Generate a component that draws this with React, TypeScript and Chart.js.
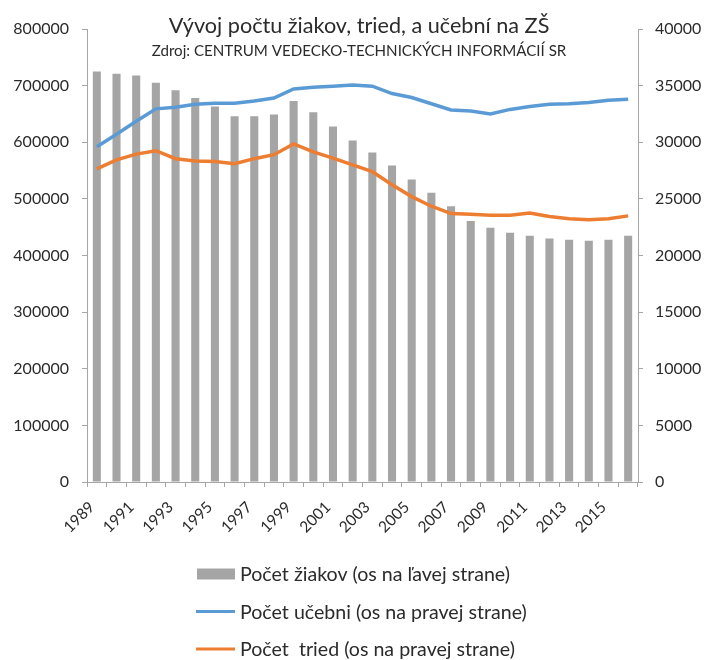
import React, { useEffect, useRef } from "react";
import { Chart, registerables } from "chart.js";

Chart.register(...registerables);

const years = [
  "1989", "1990", "1991", "1992", "1993", "1994", "1995", "1996", "1997", "1998",
  "1999", "2000", "2001", "2002", "2003", "2004", "2005", "2006", "2007", "2008",
  "2009", "2010", "2011", "2012", "2013", "2014", "2015", "2016",
];

const ziaci = [
  725000, 721000, 718000, 705000, 692000, 678000, 663000, 646000, 646000, 649000,
  673000, 653000, 628000, 603000, 582000, 559000, 534000, 511000, 487000, 461000,
  449000, 440000, 435000, 430000, 428000, 426000, 428000, 435000,
];

const ucebne = [
  29600, 30700, 31850, 32950, 33100, 33350, 33450, 33450, 33650, 33900,
  34700, 34850, 34950, 35050, 34950, 34300, 33950, 33400, 32850, 32750,
  32500, 32900, 33150, 33350, 33400, 33500, 33700, 33800,
];

const triedy = [
  27650, 28450, 28950, 29250, 28550, 28350, 28300, 28100, 28550, 28900,
  29850, 29150, 28600, 28000, 27400, 26250, 25200, 24350, 23700, 23650,
  23550, 23550, 23750, 23450, 23250, 23150, 23250, 23500,
];

const titleText = "Vývoj počtu žiakov, tried, a učební na ZŠ";
const subtitleText = "Zdroj: CENTRUM VEDECKO-TECHNICKÝCH INFORMÁCIÍ SR";
const legendLabels = [
  "Počet žiakov (os na ľavej strane)",
  "Počet učebni (os na pravej strane)",
  "Počet  tried (os na pravej strane)",
];

const FONT = "Lato, 'Open Sans', sans-serif";
const TEXT = "#2b2b2b";
const AXIS = "#a6a6a6";

function fitFont(ctx: CanvasRenderingContext2D, text: string, target: number) {
  ctx.font = `20px ${FONT}`;
  const w = ctx.measureText(text).width;
  return (20 * target) / w;
}

const decorPlugin = {
  id: "decor",
  afterDraw(chart: any) {
    const ctx: CanvasRenderingContext2D = chart.ctx;
    ctx.save();
    ctx.fillStyle = TEXT;
    ctx.textAlign = "center";
    ctx.textBaseline = "alphabetic";
    const cx = 359;
    let s = fitFont(ctx, titleText, 381);
    ctx.font = `${s}px ${FONT}`;
    ctx.fillText(titleText, cx, 33);
    s = fitFont(ctx, subtitleText, 415);
    ctx.font = `${s}px ${FONT}`;
    ctx.fillText(subtitleText, cx, 56);

    // legend
    const ds = chart.data.datasets;
    const rows = [574, 611.5, 649];
    const ls = fitFont(ctx, legendLabels[1], 287);
    ctx.font = `${ls}px ${FONT}`;
    ctx.textAlign = "left";
    ctx.textBaseline = "middle";
    ds.forEach((d: any, i: number) => {
      const y = rows[i];
      if (d.type === "bar") {
        ctx.fillStyle = d.backgroundColor;
        ctx.fillRect(197, y - 5.5, 38, 11);
      } else {
        ctx.strokeStyle = d.borderColor;
        ctx.lineWidth = 3;
        ctx.beginPath();
        ctx.moveTo(196, y);
        ctx.lineTo(235, y);
        ctx.stroke();
      }
      ctx.fillStyle = TEXT;
      ctx.fillText(d.label, 240, y + 1);
    });
    ctx.restore();
  },
};

export default function App() {
  const ref = useRef<HTMLCanvasElement | null>(null);
  useEffect(() => {
    if (!ref.current) return;
    const tickFont = { family: FONT, size: 16 };
    const chart = new Chart(ref.current, {
      type: "bar",
      data: {
        labels: years,
        datasets: [
          {
            type: "bar",
            label: legendLabels[0],
            data: ziaci,
            backgroundColor: "#a5a5a5",
            yAxisID: "y",
            categoryPercentage: 1,
            barPercentage: 0.41,
            order: 3,
          } as any,
          {
            type: "line",
            label: legendLabels[1],
            data: ucebne,
            borderColor: "#5b9bd5",
            backgroundColor: "#5b9bd5",
            borderWidth: 3.5,
            pointRadius: 0,
            tension: 0,
            yAxisID: "y1",
            order: 1,
          },
          {
            type: "line",
            label: legendLabels[2],
            data: triedy,
            borderColor: "#ed7d31",
            backgroundColor: "#ed7d31",
            borderWidth: 3.5,
            pointRadius: 0,
            tension: 0,
            yAxisID: "y1",
            order: 2,
          },
        ],
      },
      options: {
        animation: false,
        responsive: false,
        devicePixelRatio: 1,
        layout: { padding: { top: 29, bottom: 108, left: 0, right: 0 } },
        plugins: {
          legend: { display: false },
          title: { display: false },
          tooltip: { enabled: false },
        },
        scales: {
          x: {
            offset: true,
            grid: {
              offset: true,
              drawOnChartArea: false,
              drawTicks: true,
              tickLength: 5,
              color: AXIS,
            },
            border: { color: AXIS },
            ticks: {
              autoSkip: false,
              minRotation: 45,
              maxRotation: 45,
              padding: 11,
              labelOffset: -5,
              color: TEXT,
              font: { family: FONT, size: 15.5 },
              callback: (_v: any, i: number) => (i % 2 === 0 ? years[i] : ""),
            },
            afterFit: (s: any) => {
              s.height = 70;
            },
          },
          y: {
            position: "left",
            min: 0,
            max: 800000,
            grid: {
              drawOnChartArea: false,
              drawTicks: true,
              tickLength: 5,
              color: AXIS,
            },
            border: { color: AXIS },
            ticks: {
              stepSize: 100000,
              padding: 13,
              color: TEXT,
              font: tickFont,
              callback: (v: any) => String(v),
            },
            afterFit: (s: any) => {
              s.width = 87;
            },
          },
          y1: {
            position: "right",
            min: 0,
            max: 40000,
            grid: {
              drawOnChartArea: false,
              drawTicks: true,
              tickLength: 5,
              color: AXIS,
            },
            border: { color: AXIS },
            ticks: {
              stepSize: 5000,
              padding: 12,
              color: TEXT,
              font: tickFont,
              callback: (v: any) => String(v),
            },
            afterFit: (s: any) => {
              s.width = 69;
            },
          },
        },
      },
      plugins: [decorPlugin],
    });
    return () => chart.destroy();
  }, []);
  return (
    <div style={{ position: "absolute", left: 0, top: 0, width: 707, height: 660, background: "#fff" }}>
      <canvas ref={ref} width={707} height={660} style={{ display: "block" }} />
    </div>
  );
}
